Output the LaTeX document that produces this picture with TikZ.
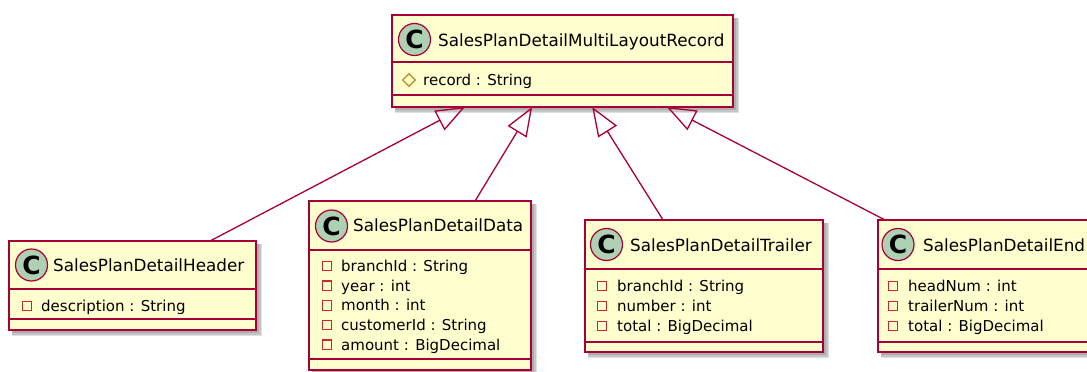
\documentclass[tikz,border=0pt]{standalone}
\usepackage{fontspec}
\setmainfont{DejaVu Sans}
\usetikzlibrary{arrows.meta, calc, backgrounds, shapes.geometric}
\definecolor{clsfill}{HTML}{FEFECE}
\definecolor{clsline}{HTML}{A80036}
\definecolor{iconcol}{HTML}{ADD1B2}
\definecolor{privcol}{HTML}{C82930}
\definecolor{protcol}{HTML}{B38D22}

\begin{document}
\begin{tikzpicture}[
  x=1pt, y=-1pt,
  clsbox/.style  = {draw=clsline, fill=clsfill, line width=1.5pt,
                    outer sep=0pt, inner sep=0pt},
  cicon/.style   = {circle, draw=clsline, fill=iconcol, line width=1.2pt,
                    minimum size=32pt, inner sep=0pt,
                    font=\fontsize{25}{25}\selectfont\bfseries},
  ctitle/.style  = {anchor=base west, inner sep=0pt,
                    font=\fontsize{16.8}{20}\selectfont},
  cattr/.style   = {anchor=base west, inner sep=0pt,
                    font=\fontsize{15}{18}\selectfont},
  privsq/.style  = {shape=rectangle, draw=privcol, line width=1.2pt,
                    minimum width=9.5pt, minimum height=9.5pt, inner sep=0pt},
  protdm/.style  = {shape=diamond, draw=protcol, line width=1.2pt,
                    minimum width=13pt, minimum height=13pt, inner sep=0pt},
  sepline/.style = {draw=clsline, line width=1.5pt},
  inh/.style     = {-{Triangle[open, length=29pt, width=22pt]},
                    draw=clsline, line width=1.3pt},
  shdw/.style    = {fill=black, opacity=0.12},
]
\useasboundingbox (0,0) rectangle (1087,372);
\clip (0,0) rectangle (1087,372);

% ---------- base class ----------
\node[clsbox, minimum width=341, minimum height=92] (rec) at (562.5,61) {};
\node[cicon]  (recC)  at (414.5,39.5) {C};
\node[ctitle] (recT)  at (438,46.5)   {SalesPlanDetailMultiLayoutRecord};
\draw[sepline] (rec.west |- 0,62) -- (rec.east |- 0,62);
\draw[sepline] (rec.west |- 0,95) -- (rec.east |- 0,95);
\node[protdm] (recI1) at (409,80)     {};
\node[cattr]  (recA1) at (423,85.5)   {record : String};

% ---------- header ----------
\node[clsbox, minimum width=247, minimum height=89] (hdr) at (132.5,285.5) {};
\node[cicon]  (hdrC)  at (31.5,265)  {C};
\node[ctitle] (hdrT)  at (53,271.5)  {SalesPlanDetailHeader};
\draw[sepline] (hdr.west |- 0,289) -- (hdr.east |- 0,289);
\draw[sepline] (hdr.west |- 0,319) -- (hdr.east |- 0,319);
\node[privsq] (hdrI1) at (27,306)    {};
\node[cattr]  (hdrA1) at (41,311.5)  {description : String};

% ---------- data ----------
\node[clsbox, minimum width=222, minimum height=169] (data) at (420,285.5) {};
\node[cicon]  (dataC)  at (331.5,226) {C};
\node[ctitle] (dataT)  at (353,231.5) {SalesPlanDetailData};
\draw[sepline] (data.west |- 0,250) -- (data.east |- 0,250);
\draw[sepline] (data.west |- 0,359) -- (data.east |- 0,359);
\node[privsq] (dataI1) at (327,266)   {};
\node[privsq] (dataI2) at (327,285.7) {};
\node[privsq] (dataI3) at (327,305.4) {};
\node[privsq] (dataI4) at (327,325.1) {};
\node[privsq] (dataI5) at (327,344.8) {};
\node[cattr]  (dataA1) at (341,271.5) {branchId : String};
\node[cattr]  (dataA2) at (341,291.2) {year : int};
\node[cattr]  (dataA3) at (341,310.9) {month : int};
\node[cattr]  (dataA4) at (341,330.6) {customerId : String};
\node[cattr]  (dataA5) at (341,350.3) {amount : BigDecimal};

% ---------- trailer ----------
\node[clsbox, minimum width=238, minimum height=132] (trl) at (704,286) {};
\node[cicon]  (trlC)  at (606.5,244.5) {C};
\node[ctitle] (trlT)  at (630,251.5)   {SalesPlanDetailTrailer};
\draw[sepline] (trl.west |- 0,269) -- (trl.east |- 0,269);
\draw[sepline] (trl.west |- 0,342) -- (trl.east |- 0,342);
\node[privsq] (trlI1) at (602,286)   {};
\node[privsq] (trlI2) at (602,306)   {};
\node[privsq] (trlI3) at (602,326)   {};
\node[cattr]  (trlA1) at (617,291.5) {branchId : String};
\node[cattr]  (trlA2) at (617,311.5) {number : int};
\node[cattr]  (trlA3) at (617,331.5) {total : BigDecimal};

% ---------- end (cut at the right edge) ----------
\node[clsbox, minimum width=213, minimum height=132] (endc) at (984.5,286) {};
\node[cicon]  (endcC)  at (898,244.5) {C};
\node[ctitle] (endcT)  at (923,251.5) {SalesPlanDetailEnd};
\draw[sepline] (endc.west |- 0,269) -- (endc.east |- 0,269);
\draw[sepline] (endc.west |- 0,342) -- (endc.east |- 0,342);
\node[privsq] (endcI1) at (893,286)   {};
\node[privsq] (endcI2) at (893,306)   {};
\node[privsq] (endcI3) at (893,326)   {};
\node[cattr]  (endcA1) at (908,291.5) {headNum : int};
\node[cattr]  (endcA2) at (908,311.5) {trailerNum : int};
\node[cattr]  (endcA3) at (908,331.5) {total : BigDecimal};

% ---------- generalisation links ----------
\draw[inh] ($(hdr.north west)!0.814!(hdr.north east)$)   -- ($(rec.south west)!0.214!(rec.south east)$);
\draw[inh] ($(data.north west)!0.748!(data.north east)$) -- ($(rec.south west)!0.411!(rec.south east)$);
\draw[inh] ($(trl.north west)!0.328!(trl.north east)$)   -- ($(rec.south west)!0.587!(rec.south east)$);
\draw[inh] ($(endc.north west)!0.033!(endc.north east)$) -- ($(rec.south west)!0.806!(rec.south east)$);

% ---------- drop shadows ----------
\begin{scope}[on background layer]
  \foreach \c in {rec,hdr,data,trl,endc}
    \foreach \d in {3,4.5,6}
      \fill[shdw] ([shift={(3,3)}]\c.north west) rectangle ([shift={(\d,\d)}]\c.south east);
\end{scope}

\end{tikzpicture}
\end{document}
